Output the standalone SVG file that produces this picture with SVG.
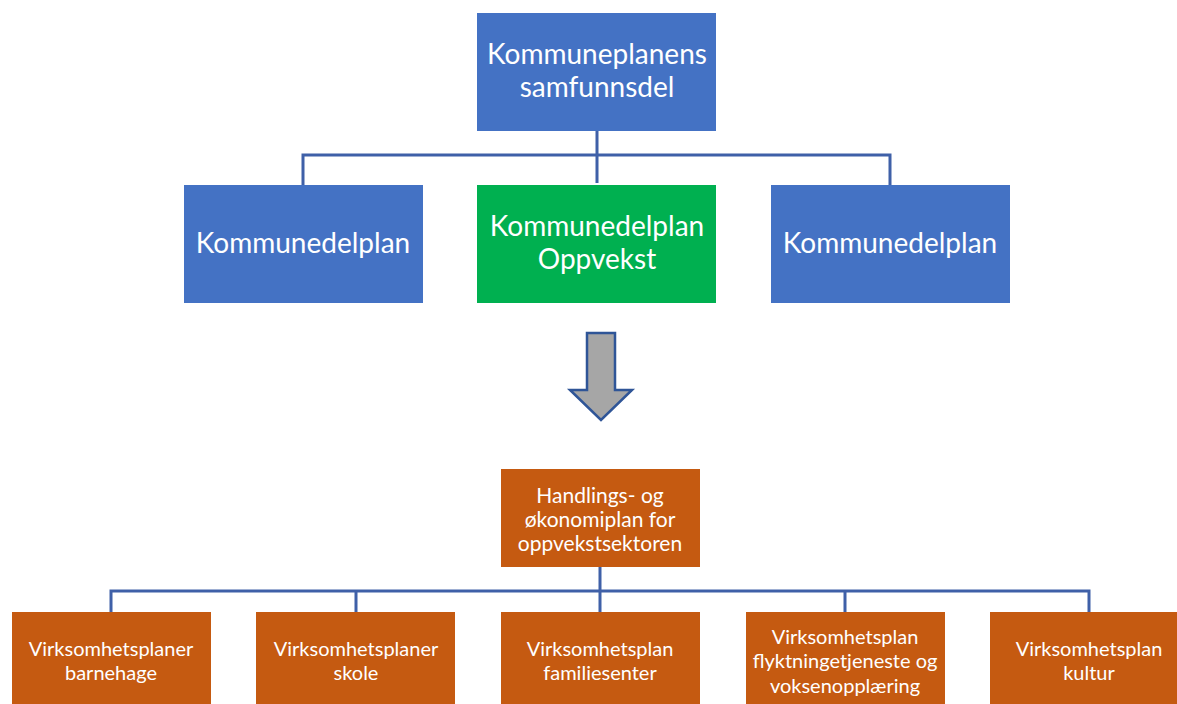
<svg xmlns="http://www.w3.org/2000/svg" width="1177" height="704" viewBox="0 0 1177 704">
<style>
.blue{fill:#4472C4}
.green{fill:#00B050}
.orange{fill:#C55A11}
.t{font-family:Lato,"Open Sans","Liberation Sans",sans-serif;fill:#fff;text-anchor:middle}
.big{font-size:28px}
.mid{font-size:21px}
.sm{font-size:20px}
.conn{fill:none;stroke:#3F60A8;stroke-width:3}
</style>
<rect width="1177" height="704" fill="#fff"/>
<g id="connectors">
<path class="conn" d="M597 131V183M303 185V155H890V185"/>
<path class="conn" d="M600 567V612M111 612V591H1089V612M356 591V612M845 591V612"/>
<path id="arrow" d="M587 333H615V390H632L601 420L570 390H587Z" fill="#A6A6A6" stroke="#2F5597" stroke-width="2.5" stroke-linejoin="miter"/>
</g>
<g id="n-top"><rect class="blue" x="477" y="13" width="239" height="118"/><text class="t big" x="597" y="64">Kommuneplanens</text><text class="t big" x="597" y="97">samfunnsdel</text></g>
<g id="n-left"><rect class="blue" x="184" y="185" width="239" height="118"/><text class="t big" x="303" y="253">Kommunedelplan</text></g>
<g id="n-center"><rect class="green" x="477" y="185" width="239" height="118"/><text class="t big" x="597" y="236">Kommunedelplan</text><text class="t big" x="597" y="269">Oppvekst</text></g>
<g id="n-right"><rect class="blue" x="771" y="185" width="239" height="118"/><text class="t big" x="890" y="253">Kommunedelplan</text></g>
<g id="n-hop"><rect class="orange" x="501" y="469" width="199" height="98"/><text class="t mid" x="600" y="503">Handlings- og</text><text class="t mid" x="600" y="527">økonomiplan for</text><text class="t mid" x="600" y="551">oppvekstsektoren</text></g>
<g id="n-b1"><rect class="orange" x="12" y="612" width="199" height="100"/><text class="t sm" x="111" y="656">Virksomhetsplaner</text><text class="t sm" x="111" y="680">barnehage</text></g>
<g id="n-b2"><rect class="orange" x="256" y="612" width="199" height="100"/><text class="t sm" x="356" y="656">Virksomhetsplaner</text><text class="t sm" x="356" y="680">skole</text></g>
<g id="n-b3"><rect class="orange" x="501" y="612" width="199" height="100"/><text class="t sm" x="600" y="656">Virksomhetsplan</text><text class="t sm" x="600" y="680">familiesenter</text></g>
<g id="n-b4"><rect class="orange" x="746" y="612" width="199" height="100"/><text class="t sm" x="845" y="644">Virksomhetsplan</text><text class="t sm" x="845" y="668">flyktningetjeneste og</text><text class="t sm" x="845" y="693">voksenopplæring</text></g>
<g id="n-b5"><rect class="orange" x="990" y="612" width="199" height="100"/><text class="t sm" x="1089" y="656">Virksomhetsplan</text><text class="t sm" x="1089" y="680">kultur</text></g>
</svg>
